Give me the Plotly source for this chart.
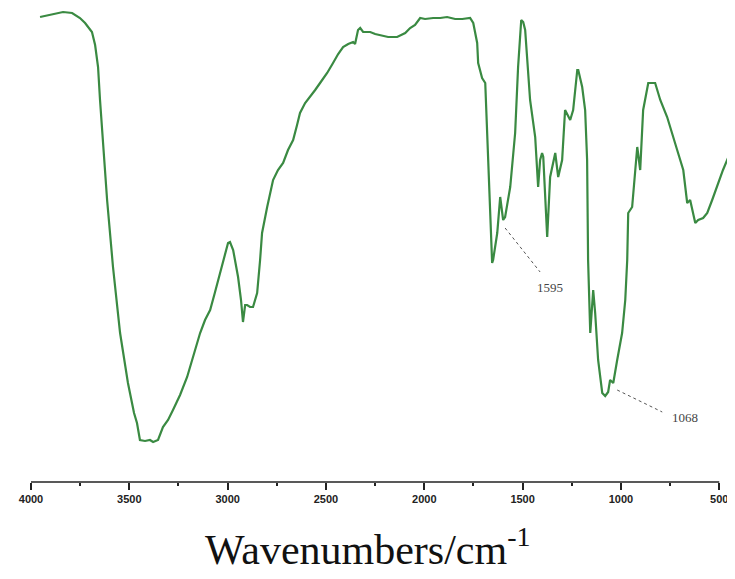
import plotly.graph_objects as go

# Wavenumber (cm-1) and transmittance (arbitrary %)
wavenumber = [3954, 3903, 3837, 3791, 3751, 3725, 3690, 3674, 3659, 3649, 3634, 3613, 3583, 3547, 3507,
              3476, 3461, 3446, 3420, 3395, 3379, 3354, 3329, 3303, 3278, 3242, 3206, 3176, 3140, 3115,
              3089, 3064, 3039, 3013, 2998, 2988, 2972, 2947, 2932, 2922, 2911, 2901, 2886, 2871, 2850,
              2835, 2825, 2799, 2769, 2744, 2718, 2693, 2667, 2647, 2632, 2606, 2581, 2555, 2530, 2494,
              2464, 2438, 2413, 2387, 2362, 2352, 2337, 2326, 2311, 2275, 2250, 2225, 2184, 2138, 2113,
              2097, 2072, 2047, 2021, 1996, 1955, 1919, 1884, 1843, 1807, 1767, 1751, 1731, 1726, 1706,
              1690, 1675, 1670, 1655, 1650, 1629, 1614, 1599, 1589, 1563, 1538, 1523, 1507, 1497, 1487,
              1462, 1436, 1421, 1411, 1401, 1395, 1375, 1360, 1334, 1319, 1299, 1284, 1258, 1243, 1222,
              1217, 1197, 1182, 1172, 1167, 1156, 1141, 1131, 1116, 1095, 1080, 1065, 1055, 1039, 1019,
              994, 978, 968, 963, 943, 927, 917, 902, 887, 861, 826, 800, 765, 714, 683,
              663, 648, 622, 607, 582, 561, 536, 511, 481, 434]
transmittance = [93.0, 93.4, 94.0, 93.8, 92.8, 91.8, 90.0, 87.4, 83.0, 76.4, 68.4, 56.4, 43.0, 29.8, 19.8,
                 13.8, 11.8, 8.4, 8.2, 8.4, 8.0, 8.4, 11.0, 12.4, 14.4, 17.4, 21.0, 24.8, 29.8, 32.4,
                 34.4, 38.0, 41.8, 45.8, 47.8, 48.0, 46.4, 41.0, 36.4, 32.0, 35.4, 35.4, 35.0, 35.0, 37.8,
                 44.4, 49.8, 55.0, 60.4, 62.4, 63.8, 66.4, 68.4, 71.4, 73.8, 75.8, 77.0, 78.4, 79.8, 81.8,
                 83.8, 85.6, 87.0, 87.6, 88.0, 87.6, 90.4, 90.8, 90.0, 90.0, 89.6, 89.4, 89.0, 89.0, 89.4,
                 89.8, 90.8, 91.4, 92.8, 92.6, 92.8, 92.8, 93.0, 92.6, 92.6, 92.8, 91.8, 87.8, 83.8, 80.8,
                 79.8, 64.4, 56.4, 43.8, 44.4, 49.8, 57.0, 52.4, 53.0, 59.0, 69.8, 83.0, 92.4, 92.0, 90.4,
                 76.4, 69.0, 59.0, 64.4, 65.8, 65.0, 49.0, 61.0, 65.8, 61.0, 64.4, 74.4, 72.4, 74.4, 82.4,
                 82.4, 79.0, 74.4, 64.4, 44.4, 29.8, 38.4, 33.8, 24.4, 17.8, 17.2, 18.0, 20.4, 19.8, 24.4,
                 29.8, 36.4, 44.4, 53.8, 55.0, 62.4, 67.0, 62.4, 74.4, 79.8, 79.8, 76.4, 73.0, 66.4, 62.4,
                 55.8, 56.4, 51.8, 52.4, 52.8, 53.8, 56.4, 59.0, 62.4, 66.8]

tick_values = [4000, 3500, 3000, 2500, 2000, 1500, 1000, 500]
tick_labels = ["4000", "3500", "3000", "2500", "2000", "1500", "1000", "500"]
minor_ticks = [3750, 3250, 2750, 2250, 1750, 1250, 750]

peak_labels = ["1595", "1068"]
peak_label_pos = [(1360, 39.0), (673, 13.0)]
leader_lines = [((1589, 50.8), (1411, 42.0)), ((1019, 18.4), (790, 14.0))]

fig = go.Figure()
fig.add_trace(go.Scatter(x=wavenumber, y=transmittance, mode="lines",
                         line=dict(color="#3a8a42", width=2.2), showlegend=False,
                         hoverinfo="skip"))

shapes = [dict(type="line", xref="x", yref="paper", x0=4000, x1=500, y0=0, y1=0,
               line=dict(color="#222222", width=1.5))]
for (p0, p1) in leader_lines:
    shapes.append(dict(type="line", xref="x", yref="y", x0=p0[0], y0=p0[1], x1=p1[0], y1=p1[1],
                       line=dict(color="#555555", width=1, dash="dot")))

annotations = []
for lab, (px, py) in zip(peak_labels, peak_label_pos):
    annotations.append(dict(x=px, y=py, xref="x", yref="y", text=lab, showarrow=False,
                            font=dict(family="Liberation Serif", size=13, color="#444444")))

# page has an 8px body margin, so the figure is shrunk/offset to match the window
fig_w, fig_h = 727, 571
plot_left, plot_w, plot_h = 23, 703, 474
title_x = (360 - plot_left) / plot_w
title_y = -(539 - plot_h) / plot_h
annotations.append(dict(x=title_x, y=title_y, xref="paper", yref="paper",
                        text="Wavenumbers/cm<sup><span style='font-size:28px'>-1</span></sup>",
                        showarrow=False, xanchor="center", yanchor="middle",
                        font=dict(family="Liberation Serif", size=42, color="#111111")))

fig.update_layout(
    width=fig_w, height=fig_h,
    margin=dict(l=plot_left, r=fig_w - plot_left - plot_w, t=0, b=fig_h - plot_h, autoexpand=False),
    paper_bgcolor="white", plot_bgcolor="white",
    shapes=shapes, annotations=annotations,
    xaxis=dict(range=[4000, 425], showgrid=False, zeroline=False, showline=False,
               automargin=False,
               tickmode="array", tickvals=tick_values, ticktext=tick_labels,
               ticks="outside", ticklen=7, tickwidth=1.5, tickcolor="#222222",
               tickfont=dict(family="Liberation Sans", size=11, color="#222222", weight="bold"),
               minor=dict(tickmode="array", tickvals=minor_ticks,
                          ticks="outside", ticklen=3, tickwidth=1.5, tickcolor="#222222")),
    yaxis=dict(range=[0, 94.8], visible=False, automargin=False),
)

fig.write_html("out.html")
